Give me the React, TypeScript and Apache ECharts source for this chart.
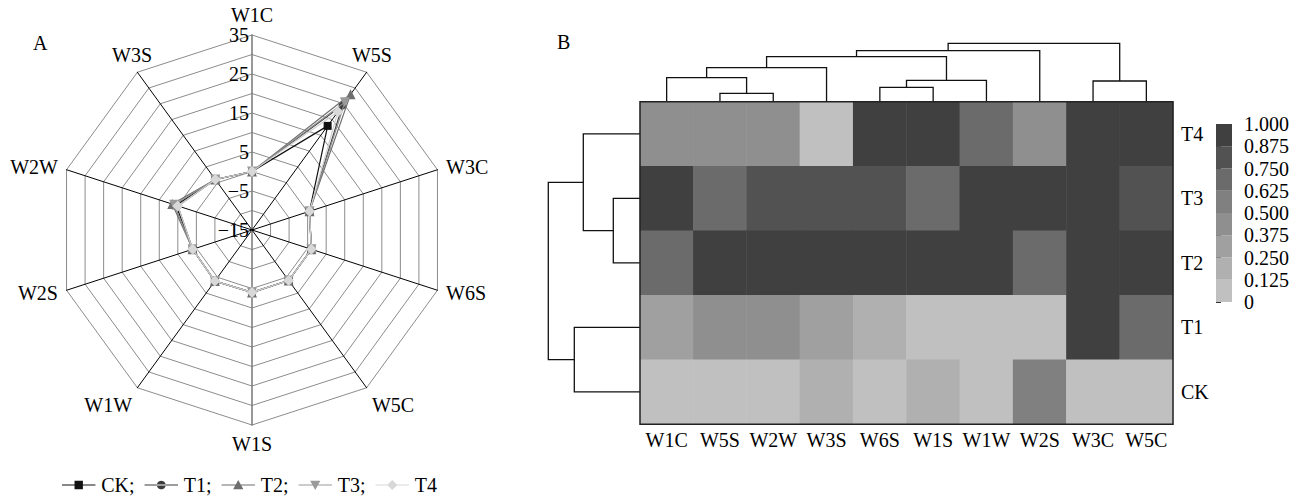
import React, { useEffect, useRef } from 'react';
import * as echarts from 'echarts';

// ---------- Panel A: radar (indicators listed clockwise from the top) ----------
const radarIndicators = ['W1C', 'W5S', 'W3C', 'W6S', 'W5C', 'W1S', 'W1W', 'W2S', 'W2W', 'W3S'];
const treatments = ['CK', 'T1', 'T2', 'T3', 'T4'];
const radarCK = [0, 18, 0.5, 1, 1, 1, 1.2, 1, 5.5, 1];
const radarT1 = [0, 24.5, 0.5, 1, 1, 1, 1.2, 1, 5, 1];
const radarT2 = [0, 28, 0.5, 1, 1, 1, 1.2, 1, 6.5, 1];
const radarT3 = [0, 25.5, 0.5, 1, 1, 1, 1.2, 1, 6, 1];
const radarT4 = [0, 22.5, 0.5, 1, 1, 1, 1.2, 1, 5, 1];
const radarMin = -15;
const radarMax = 35;

// ---------- Panel B: heatmap ----------
const heatCols = ['W1C', 'W5S', 'W2W', 'W3S', 'W6S', 'W1S', 'W1W', 'W2S', 'W3C', 'W5C'];
const heatRowsTopDown = ['T4', 'T3', 'T2', 'T1', 'CK'];
const heatT4 = [0.45, 0.45, 0.45, 0.05, 0.95, 0.95, 0.7, 0.45, 0.95, 0.95];
const heatT3 = [0.95, 0.7, 0.8, 0.8, 0.8, 0.7, 0.95, 0.95, 0.95, 0.8];
const heatT2 = [0.7, 0.95, 0.95, 0.95, 0.95, 0.95, 0.95, 0.7, 0.95, 0.95];
const heatT1 = [0.3, 0.45, 0.45, 0.3, 0.2, 0.05, 0.05, 0.05, 0.95, 0.7];
const heatCK = [0.05, 0.05, 0.05, 0.2, 0.05, 0.2, 0.05, 0.55, 0.05, 0.05];

// dendrogram linkages: [childA, childB, height]; leaves are 0..n-1, clusters n, n+1, ...
const colLinkage = [
  [1, 2, 8.4], [0, 10, 24], [11, 3, 34], [4, 5, 14.4], [13, 6, 21.4],
  [12, 14, 45], [15, 7, 51], [8, 9, 20.7], [16, 17, 58.4],
];
const rowLinkage = [[1, 2, 26.7], [0, 5, 56.7], [3, 4, 65.7], [6, 7, 91.7]];

const scaleBreaks = [0, 0.125, 0.25, 0.375, 0.5, 0.625, 0.75, 0.875, 1];
const pieceColors = ['#c0c0c0', '#b0b0b0', '#a0a0a0', '#8f8f8f', '#808080', '#6b6b6b', '#525252', '#404040'];

const FONT = 'Liberation Serif';

function buildDendro(n: number, linkage: number[][]) {
  const pos: number[] = [];
  const h: number[] = [];
  for (let i = 0; i < n; i++) { pos.push(i + 0.5); h.push(0); }
  const segs: number[][] = [];
  linkage.forEach(([a, b, ht]) => {
    segs.push([pos[a], h[a], pos[b], h[b], ht]);
    pos.push((pos[a] + pos[b]) / 2);
    h.push(ht);
  });
  return segs;
}

function dendroRender(horizontal: boolean) {
  return (params: any, api: any) => {
    const p1 = api.value(0), h1 = api.value(1), p2 = api.value(2), h2 = api.value(3), ht = api.value(4);
    const pt = (p: number, h: number) => (horizontal ? api.coord([h, p]) : api.coord([p, h]));
    return {
      type: 'polyline',
      shape: { points: [pt(p1, h1), pt(p1, ht), pt(p2, ht), pt(p2, h2)] },
      style: { stroke: '#111', lineWidth: 1.3, fill: 'none' },
    };
  };
}

// ECharts lays radar indicators counter-clockwise; reorder so they read clockwise
function toCCW<T>(arr: T[]): T[] {
  return [arr[0], ...arr.slice(1).reverse()];
}

// per-name text placement tweaks for the diagonal axis names
const nameAlign: Record<string, any> = {
  W5S: { align: 'center', verticalAlign: 'bottom' },
  W3S: { align: 'center', verticalAlign: 'bottom' },
  W5C: { verticalAlign: 'top' },
  W1W: { verticalAlign: 'top' },
};

const seriesColors = ['#111111', '#3c3c3c', '#6e6e6e', '#9a9a9a', '#d8d8d8'];
const seriesLineColors = ['#111111', '#3c3c3c', '#6e6e6e', '#8a8a8a', '#cfcfcf'];
const seriesSymbols = ['rect', 'circle', 'triangle', 'triangle', 'diamond'];
const symbolSizes = [8, 8, 10, 10, 11];
const symbolRotates = [0, 0, 0, 180, 0];
const legendIcons = [
  'path://M0,0M36,14M0,6.4h36v1.2h-36zM13.5,2.5h9v9h-9z',
  'path://M0,0M36,14M0,6.4h36v1.2h-36zM18,2.3a4.7,4.7 0 1 0 0.01,0z',
  'path://M0,0M36,14M0,6.4h36v1.2h-36zM18,1.5L23.5,11.5H12.5z',
  'path://M0,0M36,14M0,6.4h36v1.2h-36zM12.5,2.5H23.5L18,12.5z',
  'path://M0,0M36,14M0,6.4h36v1.2h-36zM18,1.5L23.5,7L18,12.5L12.5,7z',
];

export default function App() {
  const ref = useRef<HTMLDivElement>(null);
  useEffect(() => {
    if (!ref.current) return;
    const chart = echarts.init(ref.current, undefined, { renderer: 'svg' });
    const radarData = [radarCK, radarT1, radarT2, radarT3, radarT4];
    const heatByRow: Record<string, number[]> = { T4: heatT4, T3: heatT3, T2: heatT2, T1: heatT1, CK: heatCK };
    const heatData: number[][] = [];
    heatRowsTopDown.forEach((r, ri) => {
      heatByRow[r].forEach((v, ci) => heatData.push([ci, ri, v]));
    });
    const colSegs = buildDendro(heatCols.length, colLinkage);
    const rowSegs = buildDendro(heatRowsTopDown.length, rowLinkage);
    const pieces = pieceColors.map((c, i) => ({
      gte: scaleBreaks[i],
      ...(i === pieceColors.length - 1 ? { lte: scaleBreaks[i + 1] } : { lt: scaleBreaks[i + 1] }),
      color: c,
    }));
    const barData = pieceColors.map((c, i) => [scaleBreaks[i], scaleBreaks[i + 1], i]);

    const textBase = { color: '#000', fontFamily: FONT, fontSize: 20 };
    const ccwNames = toCCW(radarIndicators);

    const option: any = {
      animation: false,
      backgroundColor: '#fff',
      textStyle: { fontFamily: FONT },
      graphic: [
        { type: 'text', left: 33, top: 33, style: { text: 'A', fill: '#000', font: `20px "${FONT}"` } },
        { type: 'text', left: 557, top: 32, style: { text: 'B', fill: '#000', font: `20px "${FONT}"` } },
      ],
      legend: {
        left: 62,
        top: 475,
        padding: 0,
        itemWidth: 35,
        itemHeight: 13,
        itemGap: 10,
        textStyle: { ...textBase, lineHeight: 20 },
        formatter: (n: string) => (n === 'T4' ? n : n + ';'),
        data: treatments.map((t, i) => ({ name: t, icon: legendIcons[i], itemStyle: { color: seriesColors[i] } })),
      },
      radar: {
        center: [252, 230],
        radius: 195,
        startAngle: 90,
        shape: 'polygon',
        splitNumber: 10,
        nameGap: 9,
        indicator: ccwNames.map((name, i) => ({
          name,
          min: radarMin,
          max: radarMax,
          nameTextStyle: nameAlign[name] || {},
          axisLabel: { show: i === 0 },
          axisLine: {
            lineStyle: {
              color: name === 'W1C' || name === 'W1S' ? '#777' : '#000',
              width: name === 'W1C' || name === 'W1S' ? 1.5 : 1,
            },
          },
        })),
        axisName: { ...textBase },
        axisLine: { show: true, lineStyle: { color: '#000', width: 1 } },
        splitLine: { show: true, lineStyle: { color: '#8c8c8c', width: 1 } },
        splitArea: { show: false },
        axisTick: { show: false },
        axisLabel: {
          show: true,
          ...textBase,
          margin: 3,
          padding: [12, 0, 0, 0],
          formatter: (v: number) => {
            const n = Math.round(v);
            if ((n - radarMin) % 10 !== 0) return '';
            return n < 0 ? '\u2212' + Math.abs(n) : String(n);
          },
        },
      },
      grid: [
        { left: 640, top: 101.7, width: 533, height: 322.5, show: true, z: 5, backgroundColor: 'transparent', borderColor: '#222', borderWidth: 1.5, containLabel: false, outerBoundsMode: 'none' },
        { left: 640, top: 41.7, width: 533, height: 60, show: false, containLabel: false, outerBoundsMode: 'none' },
        { left: 548, top: 101.7, width: 92, height: 322.5, show: false, containLabel: false, outerBoundsMode: 'none' },
        { left: 1216, top: 124, width: 16, height: 178, show: false, containLabel: false, outerBoundsMode: 'none' },
      ],
      xAxis: [
        {
          type: 'category', gridIndex: 0, data: heatCols, position: 'bottom',
          axisLine: { show: false }, axisTick: { show: false }, splitLine: { show: false },
          axisLabel: { ...textBase, margin: 6, interval: 0 },
        },
        { type: 'value', gridIndex: 1, min: 0, max: heatCols.length, show: false },
        { type: 'value', gridIndex: 2, min: 0, max: 92, inverse: true, show: false },
        { type: 'value', gridIndex: 3, min: 0, max: 1, show: false },
      ],
      yAxis: [
        {
          type: 'category', gridIndex: 0, data: heatRowsTopDown, inverse: true, position: 'right',
          axisLine: { show: false }, axisTick: { show: false }, splitLine: { show: false },
          axisLabel: { ...textBase, margin: 8 },
        },
        { type: 'value', gridIndex: 1, min: 0, max: 60, show: false },
        { type: 'value', gridIndex: 2, min: 0, max: heatRowsTopDown.length, inverse: true, show: false },
        {
          type: 'value', gridIndex: 3, min: 0, max: 1, interval: 0.125, position: 'right',
          axisLine: { show: false },
          axisTick: { show: true, length: 5, lineStyle: { color: '#333', width: 1 } },
          splitLine: { show: false },
          axisLabel: {
            ...textBase, margin: 12,
            formatter: (v: number) => (Math.abs(v) < 1e-9 ? '0' : v.toFixed(3)),
          },
        },
      ],
      visualMap: {
        type: 'piecewise',
        show: false,
        seriesIndex: 5,
        dimension: 2,
        pieces,
      },
      series: [
        ...treatments.map((t, i) => ({
          type: 'radar',
          name: t,
          z: 2 + i,
          symbol: seriesSymbols[i],
          symbolSize: symbolSizes[i],
          symbolRotate: symbolRotates[i],
          lineStyle: { color: seriesLineColors[i], width: 1.2 },
          itemStyle: { color: seriesColors[i] },
          data: [{ name: t, value: toCCW(radarData[i]) }],
        })),
        {
          type: 'heatmap',
          xAxisIndex: 0,
          yAxisIndex: 0,
          data: heatData,
          itemStyle: { borderWidth: 0 },
          emphasis: { disabled: true },
        },
        {
          type: 'custom',
          xAxisIndex: 1,
          yAxisIndex: 1,
          data: colSegs,
          encode: { x: [0, 2], y: [1, 3, 4] },
          renderItem: dendroRender(false),
        },
        {
          type: 'custom',
          xAxisIndex: 2,
          yAxisIndex: 2,
          data: rowSegs,
          encode: { x: [1, 3, 4], y: [0, 2] },
          renderItem: dendroRender(true),
        },
        {
          type: 'custom',
          xAxisIndex: 3,
          yAxisIndex: 3,
          data: barData,
          encode: { y: [0, 1] },
          renderItem: (params: any, api: any) => {
            const a = api.coord([0, api.value(0)]);
            const b = api.coord([1, api.value(1)]);
            return {
              type: 'rect',
              shape: { x: a[0], y: b[1], width: b[0] - a[0], height: a[1] - b[1] },
              style: { fill: pieceColors[api.value(2)] },
            };
          },
        },
      ],
    };
    chart.setOption(option);
    return () => chart.dispose();
  }, []);
  return (
    <div
      ref={ref}
      style={{ position: 'fixed', left: 0, top: 0, width: 1300, height: 496, background: '#fff' }}
    />
  );
}
